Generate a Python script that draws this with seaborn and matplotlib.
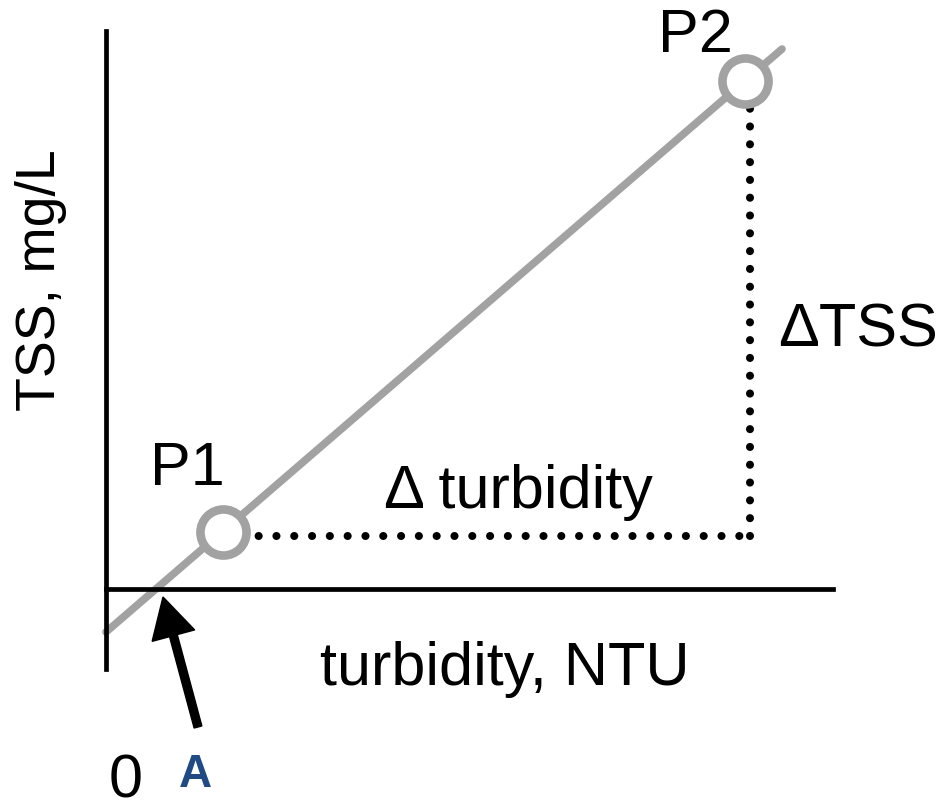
import matplotlib
matplotlib.use("Agg")
import matplotlib.pyplot as plt
import seaborn as sns

# data units: 1 unit = 1 pixel, origin where the two axes meet
line_turb = [0, 676]
line_tss = [-43, 540]

point_names = ["P1", "P2"]
point_turb = [117, 639]
point_tss = [57, 508]

corner_turb = 644
corner_tss = 53

arrow_start = (92, -138)
arrow_tip = (57, -8)

sns.set_theme(style="white")
plt.rcParams["font.family"] = ["Liberation Sans", "DejaVu Sans"]
plt.rcParams["text.color"] = "black"

fig = plt.figure(figsize=(9.41, 8.12), dpi=100)
ax = fig.add_axes([0, 0, 1, 1])
ax.set_xlim(-106, 835)
ax.set_ylim(-222, 590)

# axes drawn as spines through the origin
for side in ["top", "right"]:
    ax.spines[side].set_visible(False)
ax.spines["left"].set_position(("data", 0))
ax.spines["bottom"].set_position(("data", 0))
ax.spines["left"].set_bounds(-80, 558)
ax.spines["bottom"].set_bounds(0, 727)
for side in ["left", "bottom"]:
    ax.spines[side].set_color("black")
    ax.spines[side].set_linewidth(3.4)
ax.set_xticks([])
ax.set_yticks([])

gray = "#a2a2a2"
sns.lineplot(x=line_turb, y=line_tss, color=gray, linewidth=5.5, ax=ax, zorder=2)

# dotted delta lines
dots = dict(color="black", linewidth=5.8, linestyle=(0, (0.01, 2.2)),
            dash_capstyle="round", zorder=1)
ax.plot([point_turb[0], corner_turb], [corner_tss, corner_tss], **dots)
ax.plot([corner_turb, corner_turb], [corner_tss, point_tss[1]], **dots)

sns.scatterplot(x=point_turb, y=point_tss, s=1100, color="white",
                edgecolor=gray, linewidth=6.2, ax=ax, zorder=3, legend=False)

fs = 44
ax.text(44, 105, point_names[0], fontsize=fs, ha="left", va="baseline")
ax.text(552, 538, point_names[1], fontsize=fs, ha="left", va="baseline")
ax.text(672, 243, "\u0394TSS", fontsize=fs, ha="left", va="baseline")
ax.text(412, 82, "\u0394 turbidity", fontsize=fs, ha="center", va="baseline")
ax.text(399, -95, "turbidity, NTU", fontsize=fs, ha="center", va="baseline")
ax.text(-51, 310, "TSS, mg/L", fontsize=40, rotation=90, rotation_mode="anchor",
        ha="center", va="baseline")
ax.text(20, -221, "0", fontsize=fs, ha="center", va="bottom")
ax.text(89, -197, "A", fontsize=33, fontweight="bold", color="#1f4a84",
        ha="center", va="baseline")

ax.arrow(arrow_start[0], arrow_start[1],
         arrow_tip[0] - arrow_start[0], arrow_tip[1] - arrow_start[1],
         width=8, head_width=44, head_length=40, length_includes_head=True,
         color="black", zorder=4)

fig.savefig("out.png", dpi=100)
